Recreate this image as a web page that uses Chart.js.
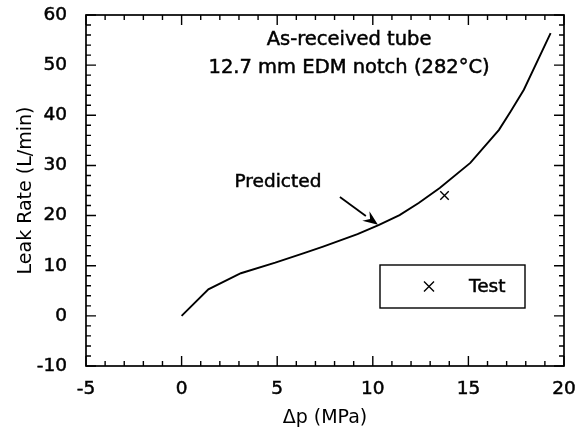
<!DOCTYPE html>
<html>
<head>
<meta charset="utf-8">
<script src="https://cdn.jsdelivr.net/npm/chart.js@4.4.1/dist/chart.umd.min.js"></script>
<style>
  html, body { margin: 0; padding: 0; background: #fff; }
  #wrap { width: 583px; height: 429px; }
</style>
</head>
<body>
<div id="wrap"><canvas id="leakChart" width="583" height="429"></canvas></div>
<script>
/* -------------------------------------------------
   Data
   ------------------------------------------------- */
const predictedDp   = [0, 1.4, 3.1, 4.9, 6.4, 7.4, 9.2, 10.3, 11.4, 12.4, 13.5, 15.1, 16.6, 17.2, 17.9, 19.3];
const predictedLeak = [0, 5.3, 8.5, 10.6, 12.5, 13.8, 16.3, 18.1, 20.1, 22.5, 25.5, 30.5, 37.1, 40.7, 45.1, 56.4];
const testDp   = [13.75];
const testLeak = [24.0];

const xRange = [-5, 20];
const yRange = [-10, 60];
const xMajor = 5, xMinor = 1;
const yMajor = 10, yMinor = 2;

const titleLines = ['As-received tube', '12.7 mm EDM notch (282°C)'];

const FONT = "'DejaVu Sans', sans-serif";
const INK = '#000';
const TEXT_STROKE = 0.5;

/* -------------------------------------------------
   Plugin: frame, inward ticks on all sides, notes
   ------------------------------------------------- */
function heavyText(ctx, str, px, py) {
  ctx.lineWidth = TEXT_STROKE;
  ctx.fillText(str, px, py);
  ctx.strokeText(str, px, py);
}

const framePlugin = {
  id: 'frame',
  afterDraw(chart) {
    const { ctx, chartArea: a, scales: { x, y } } = chart;
    ctx.save();
    ctx.strokeStyle = INK;
    ctx.lineWidth = 1.7;
    ctx.strokeRect(a.left, a.top, a.right - a.left, a.bottom - a.top);

    // x ticks, bottom and top
    ctx.lineWidth = 1.4;
    for (let v = x.min; v <= x.max + 1e-9; v += xMinor) {
      const px = x.getPixelForValue(v);
      const len = Math.abs(v % xMajor) < 1e-9 ? 10 : 5;
      ctx.beginPath();
      ctx.moveTo(px, a.bottom); ctx.lineTo(px, a.bottom - len);
      ctx.moveTo(px, a.top); ctx.lineTo(px, a.top + len);
      ctx.stroke();
    }
    // y ticks, left and right
    for (let v = y.min; v <= y.max + 1e-9; v += yMinor) {
      const py = y.getPixelForValue(v);
      const len = Math.abs(v % yMajor) < 1e-9 ? 10 : 5;
      ctx.beginPath();
      ctx.moveTo(a.left, py); ctx.lineTo(a.left + len, py);
      ctx.moveTo(a.right, py); ctx.lineTo(a.right - len, py);
      ctx.stroke();
    }

    // title block
    ctx.fillStyle = INK;
    ctx.textAlign = 'center';
    ctx.textBaseline = 'middle';
    ctx.font = '19.5px ' + FONT;
    heavyText(ctx, titleLines[0], x.getPixelForValue(8.76), y.getPixelForValue(55.0));
    heavyText(ctx, titleLines[1], x.getPixelForValue(8.76), y.getPixelForValue(49.5));

    // "Predicted" label with arrow
    const pred = chart.data.datasets[0];
    ctx.font = '18.5px ' + FONT;
    heavyText(ctx, pred.label, x.getPixelForValue(5.04), y.getPixelForValue(26.7));
    const x0 = x.getPixelForValue(8.28), y0 = y.getPixelForValue(23.7);
    const x1 = x.getPixelForValue(10.27), y1 = y.getPixelForValue(18.15);
    const ang = Math.atan2(y1 - y0, x1 - x0);
    const head = 15, half = 6;
    const cos = Math.cos(ang), sin = Math.sin(ang);
    ctx.lineWidth = 1.8;
    ctx.beginPath();
    ctx.moveTo(x0, y0);
    ctx.lineTo(x1 - head * cos, y1 - head * sin);
    ctx.stroke();
    ctx.beginPath();
    ctx.moveTo(x1, y1);
    ctx.lineTo(x1 - head * cos + half * sin, y1 - head * sin - half * cos);
    ctx.lineTo(x1 - head * 0.65 * cos, y1 - head * 0.65 * sin);
    ctx.lineTo(x1 - head * cos - half * sin, y1 - head * sin + half * cos);
    ctx.closePath();
    ctx.fill();

    // legend box for the test point (placed from the plot's lower left)
    const test = chart.data.datasets[1];
    const bx = a.left + 294, by = a.bottom - 101, bw = 145, bh = 43;
    ctx.lineWidth = 1.4;
    ctx.strokeRect(bx, by, bw, bh);
    const mx = bx + 49, my = by + bh / 2, r = 5;
    ctx.beginPath();
    ctx.moveTo(mx - r, my - r); ctx.lineTo(mx + r, my + r);
    ctx.moveTo(mx + r, my - r); ctx.lineTo(mx - r, my + r);
    ctx.stroke();
    ctx.textAlign = 'left';
    heavyText(ctx, test.label, bx + 89, my + 1);
    ctx.restore();
  }
};

/* -------------------------------------------------
   Chart
   ------------------------------------------------- */
function initLeakChart() {
  const ctx = document.getElementById('leakChart');
  const tickFont = { family: FONT, size: 18.5 };
  const titleFont = { family: FONT, size: 19 };

  new Chart(ctx, {
    type: 'scatter',
    data: {
      datasets: [{
        label: 'Predicted',
        data: predictedDp.map((v, i) => ({ x: v, y: predictedLeak[i] })),
        showLine: true,
        borderColor: INK,
        borderWidth: 1.9,
        pointRadius: 0,
        tension: 0,
      }, {
        label: 'Test',
        data: testDp.map((v, i) => ({ x: v, y: testLeak[i] })),
        showLine: false,
        pointStyle: 'crossRot',
        pointRadius: 6,
        borderColor: INK,
        borderWidth: 1.4,
      }]
    },
    options: {
      responsive: false,
      animation: false,
      layout: { padding: { top: 15, right: 19, left: 0, bottom: 0 } },
      plugins: { legend: { display: false }, tooltip: { enabled: false } },
      scales: {
        x: {
          type: 'linear',
          min: xRange[0],
          max: xRange[1],
          afterFit: s => { s.height = 63; s.paddingLeft = 0; s.paddingRight = 0; },
          grid: { display: false, drawTicks: false },
          border: { display: false },
          ticks: {
            stepSize: xMajor, color: INK, padding: 12, font: tickFont,
            textStrokeColor: INK, textStrokeWidth: TEXT_STROKE
          },
          title: { display: true, text: 'Δp (MPa)', color: INK, padding: { top: 0, bottom: 0 }, font: titleFont }
        },
        y: {
          type: 'linear',
          min: yRange[0],
          max: yRange[1],
          afterFit: s => { s.width = 86; s.paddingTop = 0; s.paddingBottom = 0; },
          grid: { display: false, drawTicks: false },
          border: { display: false },
          ticks: {
            stepSize: yMajor, color: INK, padding: 19, font: tickFont,
            textStrokeColor: INK, textStrokeWidth: TEXT_STROKE
          },
          title: { display: true, text: 'Leak Rate (L/min)', color: INK, padding: { top: 15, bottom: 0 }, font: titleFont }
        }
      }
    },
    plugins: [framePlugin]
  });
}

initLeakChart();
</script>
</body>
</html>
